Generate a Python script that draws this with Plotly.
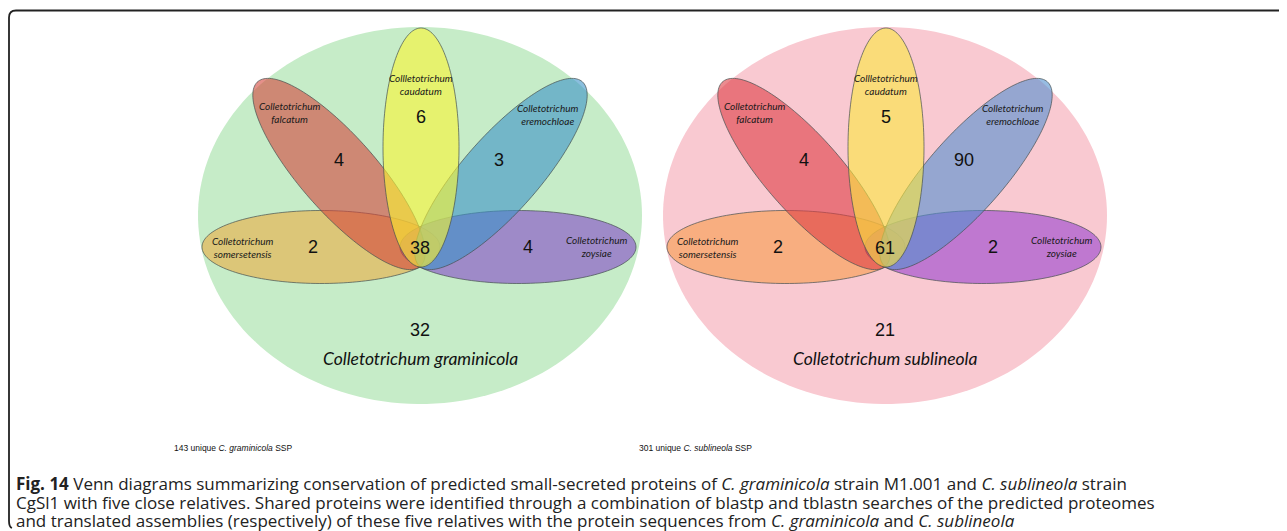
import numpy as np
import plotly.graph_objects as go

# ---------------- data ----------------
relative_names = ["Colletotrichum<br>somersetensis", "Colletotrichum<br>zoysiae",
                  "Colletotrichum<br>falcatum", "Colletotrichum<br>eremochloae",
                  "Collletotrichum<br>caudatum"]
graminicola_shared_unique = [2, 4, 4, 3, 6]
sublineola_shared_unique = [2, 2, 4, 90, 5]
core_counts = [38, 61]
focal_only_counts = [32, 21]
focal_names = ["Colletotrichum graminicola", "Colletotrichum sublineola"]
ssp_totals = [143, 301]
ssp_short = ["C. graminicola", "C. sublineola"]

caption_lines = [
    "<b>Fig. 14</b> Venn diagrams summarizing conservation of predicted small-secreted proteins of "
    "<i>C. graminicola</i> strain M1.001 and <i>C. sublineola</i> strain",
    "CgSl1 with five close relatives. Shared proteins were identified through a combination of blastp "
    "and tblastn searches of the predicted proteomes",
    "and translated assemblies (respectively) of these five relatives with the protein sequences from "
    "<i>C. graminicola</i> and <i>C. sublineola</i>",
]

# ---------------- styling / layout ----------------
W, H = 1287, 531
OFF = 8  # browser body margin: data coords == window pixels
diagram_cx = [420, 885]
big_cy, big_rx, big_ry = 215.5, 222, 188.5
big_colors = ["#c6ecc8", "#f9c9d1"]

# petal geometry: dx from centre, cy, semi-major, semi-minor, angle(deg)
petal_geom = [(-99, 247, 119, 36.5, 0), (98, 247, 118, 36.5, 0),
              (-81, 174, 123, 38, 48.6), (81, 174, 123, 38, -48.6),
              (1, 147.5, 119.5, 38, 90)]
petal_colors = [
    ["rgba(235,173,67,0.6)", "rgba(132,73,200,0.6)", "rgba(212,70,60,0.6)",
     "rgba(60,146,200,0.6)", "rgba(252,246,50,0.6)"],
    ["rgba(246,156,74,0.6)", "rgba(151,66,207,0.6)", "rgba(222,61,69,0.6)",
     "rgba(81,143,207,0.6)", "rgba(250,233,61,0.6)"],
]
label_pos = [(-178, 247), (176, 246), (-131, 112), (127, 114), (1, 84)]
number_pos = [(-107, 247), (108, 247), (-81, 160), (79, 160), (1, 117)]


def ellipse_path(cx, cy, a, b, ang_deg, n=160):
    t = np.linspace(0, 2 * np.pi, n)
    ang = np.deg2rad(ang_deg)
    x = cx + a * np.cos(t) * np.cos(ang) - b * np.sin(t) * np.sin(ang)
    y = cy + a * np.cos(t) * np.sin(ang) + b * np.sin(t) * np.cos(ang)
    pts = " L ".join(f"{xx:.2f},{yy:.2f}" for xx, yy in zip(x, y))
    return "M " + pts + " Z"


fig = go.Figure()
fig.add_trace(go.Scatter(x=[OFF, W], y=[OFF, H], mode="markers",
                         marker=dict(opacity=0), hoverinfo="skip", showlegend=False))

shapes = []
annotations = []
count_sets = [graminicola_shared_unique, sublineola_shared_unique]
label_font = dict(family="Lato, Carlito, sans-serif", size=10, color="#1a1a1a")
num_font = dict(family="Liberation Sans, Arial, sans-serif", size=18, color="#111")

for d, cx in enumerate(diagram_cx):
    shapes.append(dict(type="path", xref="x", yref="y",
                       path=ellipse_path(cx, big_cy, big_rx, big_ry, 0),
                       fillcolor=big_colors[d], line=dict(width=0), layer="above"))
    for i, (dx, cy, a, b, ang) in enumerate(petal_geom):
        shapes.append(dict(type="path", xref="x", yref="y",
                           path=ellipse_path(cx + dx, cy, a, b, ang),
                           fillcolor=petal_colors[d][i],
                           line=dict(width=1, color="rgba(70,80,80,0.7)"), layer="above"))
    for i, name in enumerate(relative_names):
        lx, ly = label_pos[i]
        annotations.append(dict(x=cx + lx, y=ly, xref="x", yref="y", text=f"<i>{name}</i>",
                                showarrow=False, font=label_font, align="center"))
        nx, ny = number_pos[i]
        annotations.append(dict(x=cx + nx, y=ny, xref="x", yref="y", text=str(count_sets[d][i]),
                                showarrow=False, font=num_font))
    annotations.append(dict(x=cx, y=248, xref="x", yref="y", text=str(core_counts[d]),
                            showarrow=False, font=num_font))
    annotations.append(dict(x=cx, y=330, xref="x", yref="y", text=str(focal_only_counts[d]),
                            showarrow=False, font=num_font))
    annotations.append(dict(x=cx, y=358, xref="x", yref="y", text=f"<i>{focal_names[d]}</i>",
                            showarrow=False,
                            font=dict(family="Lato, Carlito, sans-serif", size=17.5, color="#111")))
    annotations.append(dict(x=cx - 248, y=448, xref="x", yref="y", xanchor="left",
                            text=f"{ssp_totals[d]} unique <i>{ssp_short[d]}</i> SSP",
                            showarrow=False,
                            font=dict(family="Liberation Sans, Arial, sans-serif", size=8.5, color="#111")))

for k, line in enumerate(caption_lines):
    annotations.append(dict(x=15, y=483.5 + k * 18.5, xref="x", yref="y", xanchor="left",
                            yanchor="middle", text=line, showarrow=False, borderpad=0,
                            font=dict(family="Open Sans, sans-serif", size=17, color="#222")))

# frame (top and left edges with rounded corners)
shapes.append(dict(type="path", xref="x", yref="y",
                   path="M 1300,10.5 L 16,10.5 Q 9,10.5 9,17.5 L 9,521 Q 9,527 12,528",
                   line=dict(color="#222", width=1.8), layer="above"))

fig.update_layout(
    width=W, height=H, margin=dict(l=0, r=0, t=0, b=0),
    paper_bgcolor="white", plot_bgcolor="white",
    xaxis=dict(range=[OFF, W + OFF], visible=False, fixedrange=True),
    yaxis=dict(range=[H + OFF, OFF], visible=False, fixedrange=True),
    shapes=shapes, annotations=annotations, showlegend=False,
)
fig.write_html("out.html")
